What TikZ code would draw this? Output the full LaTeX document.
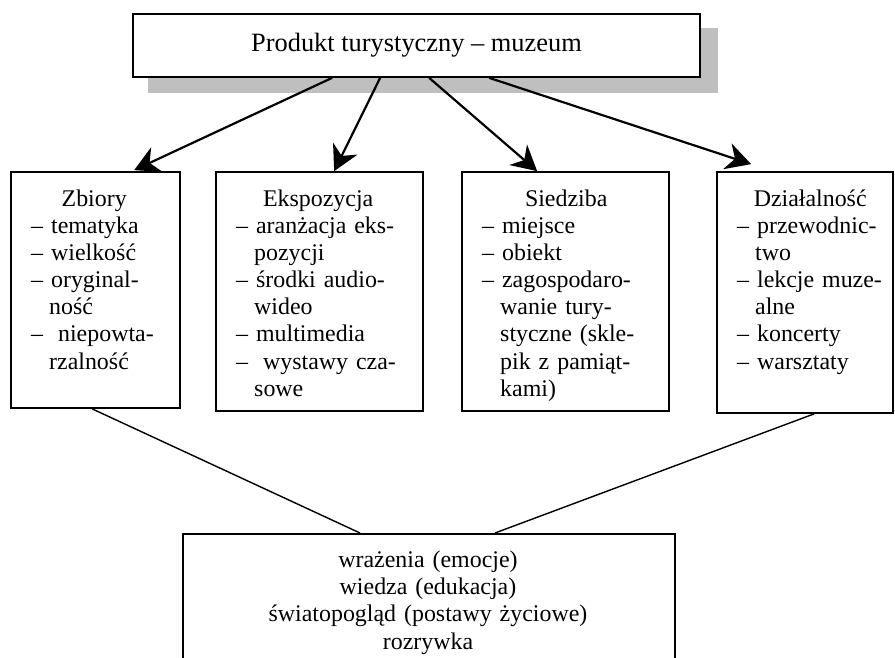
\documentclass[tikz,border=0pt]{standalone}
\usepackage{fontspec}
\setmainfont{Liberation Serif}
\usetikzlibrary{arrows.meta}
\definecolor{shadowgray}{RGB}{191,191,191}
\begin{document}
\begin{tikzpicture}[x=1bp,y=-1bp,
  box/.style={draw, line width=1.7bp, fill=white, inner sep=0pt},
  arr/.style={line width=2.2bp, -{Stealth[length=25bp,width=27bp,inset=8bp]}},
  link/.style={line width=1.4bp},
  txt/.style={inner sep=0pt, text width=200bp, align=left, anchor=base west, font=\fontsize{24}{27.3}\selectfont},
  ctxt/.style={inner sep=0pt, text width=420bp, align=center, anchor=base, font=\fontsize{24}{27.5}\selectfont}
  ]
\useasboundingbox (0,0) rectangle (895,658);
\clip (0,0) rectangle (895,658);
% shadow and top box
\fill[shadowgray] (148,28) rectangle (718,93);
\node[box, minimum width=567bp, minimum height=63bp, font=\fontsize{26.5}{30}\selectfont] (top) at (416.5,45.5) {Produkt turystyczny – muzeum};
% category boxes
\node[box, minimum width=169bp, minimum height=236bp] (zb) at (95.5,290) {};
\node[box, minimum width=207bp, minimum height=239bp] (ek) at (319.5,291.5) {};
\node[box, minimum width=207bp, minimum height=239bp] (si) at (565.5,291.5) {};
\node[box, minimum width=176bp, minimum height=241bp] (dz) at (805,292.5) {};
% bottom box
\node[box, minimum width=492bp, minimum height=180bp, anchor=north west] (res) at (182,533) {};
% texts
\node[txt] (zbt) at (31,206) {\makebox[126bp]{Zbiory}\\– tematyka\\– wielkość\\– oryginal-\\\hspace*{18bp}ność\\–\hspace{7bp} niepowta-\\\hspace*{18bp}rzalność};
\node[txt] (ekt) at (236,206) {\makebox[164bp]{Ekspozycja}\\– aranżacja eks-\\\hspace*{18bp}pozycji\\– środki audio-\\\hspace*{18bp}wideo\\– multimedia\\–\hspace{7bp} wystawy cza-\\\hspace*{18bp}sowe};
\node[txt] (sit) at (482,206) {\makebox[168bp]{Siedziba}\\– miejsce\\– obiekt\\– zagospodaro-\\\hspace*{18bp}wanie tury-\\\hspace*{18bp}styczne (skle-\\\hspace*{18bp}pik z pamiąt-\\\hspace*{18bp}kami)};
\node[txt] (dzt) at (737,206) {\makebox[146bp]{Działalność}\\– przewodnic-\\\hspace*{18bp}two\\– lekcje muze-\\\hspace*{18bp}alne\\– koncerty\\– warsztaty};
\node[ctxt] (rest) at (428,567) {wrażenia (emocje)\\wiedza (edukacja)\\światopogląd (postawy życiowe)\\rozrywka};
% arrows
\draw[arr] ([xshift=200bp]top.south west) -- ([xshift=124bp,yshift=1bp]zb.north west);
\draw[arr] ([xshift=248bp]top.south west) -- ([xshift=119bp]ek.north west);
\draw[arr] ([xshift=297bp]top.south west) -- ([xshift=76bp]si.north west);
\draw[arr] ([xshift=357bp]top.south west) -- ([xshift=35bp,yshift=7bp]dz.north west);
% links to result
\draw[link] ([xshift=82bp]zb.south west) -- ([xshift=178bp]res.north west);
\draw[link] ([xshift=98bp]dz.south west) -- ([xshift=313bp]res.north west);
\end{tikzpicture}
\end{document}
